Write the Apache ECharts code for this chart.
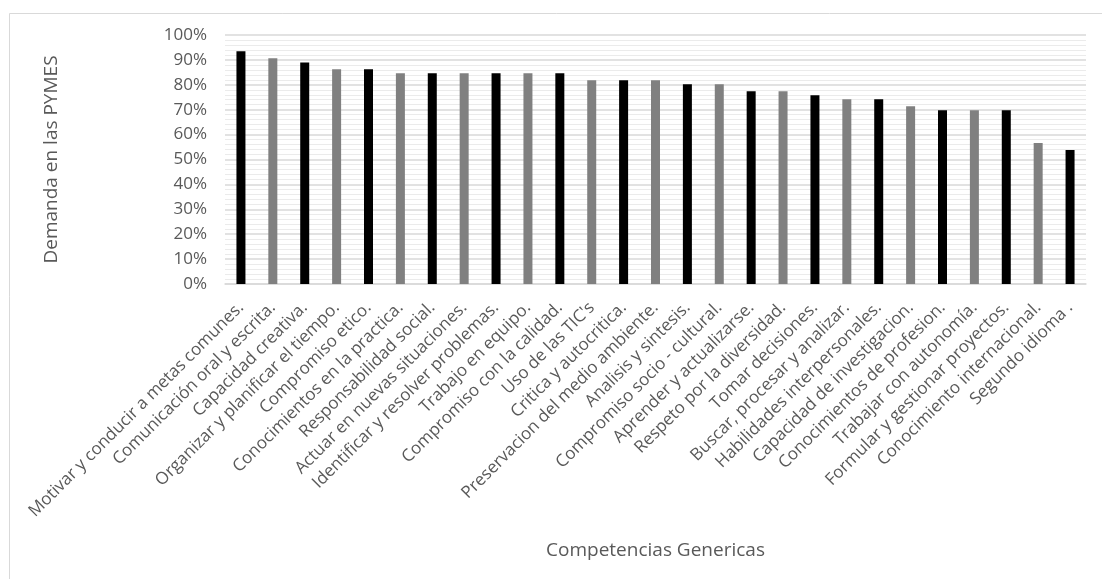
<!DOCTYPE html>
<html>
<head>
<meta charset="utf-8">
<title>Competencias Genericas</title>
<script src="https://cdn.jsdelivr.net/npm/echarts@6/dist/echarts.min.js"></script>
<style>
  html, body { margin: 0; padding: 0; background: #ffffff; }
  #chart { width: 1102px; height: 579px; }
</style>
</head>
<body>
<div id="chart"></div>
<script>
// Generic competences, ordered by demand
const categories = [
  'Motivar y conducir a metas comunes.',
  'Comunicación oral y escrita.',
  'Capacidad creativa.',
  'Organizar y planificar el tiempo.',
  'Compromiso etico.',
  'Conocimientos en la practica.',
  'Responsabilidad social.',
  'Actuar en nuevas situaciones.',
  'Identificar y resolver problemas.',
  'Trabajo en equipo.',
  'Compromiso con la calidad.',
  "Uso de las TIC's",
  'Critica y autocritica.',
  'Preservacion del medio ambiente.',
  'Analisis y sintesis.',
  'Compromiso socio - cultural.',
  'Aprender y actualizarse.',
  'Respeto por la diversidad.',
  'Tomar decisiones.',
  'Buscar, procesar y analizar.',
  'Habilidades interpersonales.',
  'Capacidad de investigacion.',
  'Conocimientos de profesion.',
  'Trabajar con autonomía.',
  'Formular y gestionar proyectos.',
  'Conocimiento internacional.',
  'Segundo idioma .'
];

// Share of SMEs demanding each competence (%)
const demanda = [
  93.5, 90.7, 89.0, 86.2, 86.2, 84.6, 84.6, 84.6, 84.6, 84.6,
  84.6, 81.8, 81.8, 81.8, 80.2, 80.2, 77.4, 77.4, 75.8, 74.2,
  74.2, 71.4, 69.8, 69.8, 69.8, 56.6, 53.8
];

const yTicks = { min: 0, max: 100, interval: 10 };
const xTitle = 'Competencias Genericas';
const yTitle = 'Demanda en las PYMES';

const textColor = '#595959';
const font = 'Open Sans';

const chart = echarts.init(document.getElementById('chart'), null, { renderer: 'canvas' });

chart.setOption({
  backgroundColor: '#ffffff',
  animation: false,
  graphic: [{
    type: 'rect',
    shape: { x: 9.5, y: 13.5, width: 1200, height: 1000 },
    style: { fill: 'none', stroke: '#d9d9d9', lineWidth: 1 },
    silent: true,
    z: -10
  }],
  grid: { left: 225, right: 16, top: 35, bottom: 295, containLabel: false },
  xAxis: {
    type: 'category',
    data: categories,
    name: xTitle,
    nameLocation: 'middle',
    nameGap: 257,
    nameTextStyle: { color: textColor, fontFamily: font, fontSize: 19 },
    axisLine: { show: true, lineStyle: { color: '#d9d9d9', width: 1.5 } },
    axisTick: { show: false },
    axisLabel: {
      interval: 0,
      rotate: 45,
      margin: 21,
      color: textColor,
      fontFamily: font,
      fontSize: 17
    },
    splitLine: { show: false }
  },
  yAxis: {
    type: 'value',
    min: yTicks.min,
    max: yTicks.max,
    interval: yTicks.interval,
    name: yTitle,
    nameLocation: 'middle',
    nameGap: 164,
    nameRotate: 90,
    nameTextStyle: { color: textColor, fontFamily: font, fontSize: 19 },
    axisLine: { show: false },
    axisTick: { show: false },
    axisLabel: {
      formatter: '{value}%',
      margin: 18,
      color: textColor,
      fontFamily: font,
      fontSize: 17
    },
    splitLine: { show: true, lineStyle: { color: '#d9d9d9', width: 1.5 } },
    minorTick: { show: false, splitNumber: 5 },
    minorSplitLine: { show: true, lineStyle: { color: '#ebebeb', width: 1.2 } }
  },
  series: [{
    type: 'bar',
    data: demanda,
    barWidth: 9,
    itemStyle: {
      color: function (p) { return p.dataIndex % 2 === 0 ? '#000000' : '#808080'; }
    }
  }]
});
</script>
</body>
</html>
